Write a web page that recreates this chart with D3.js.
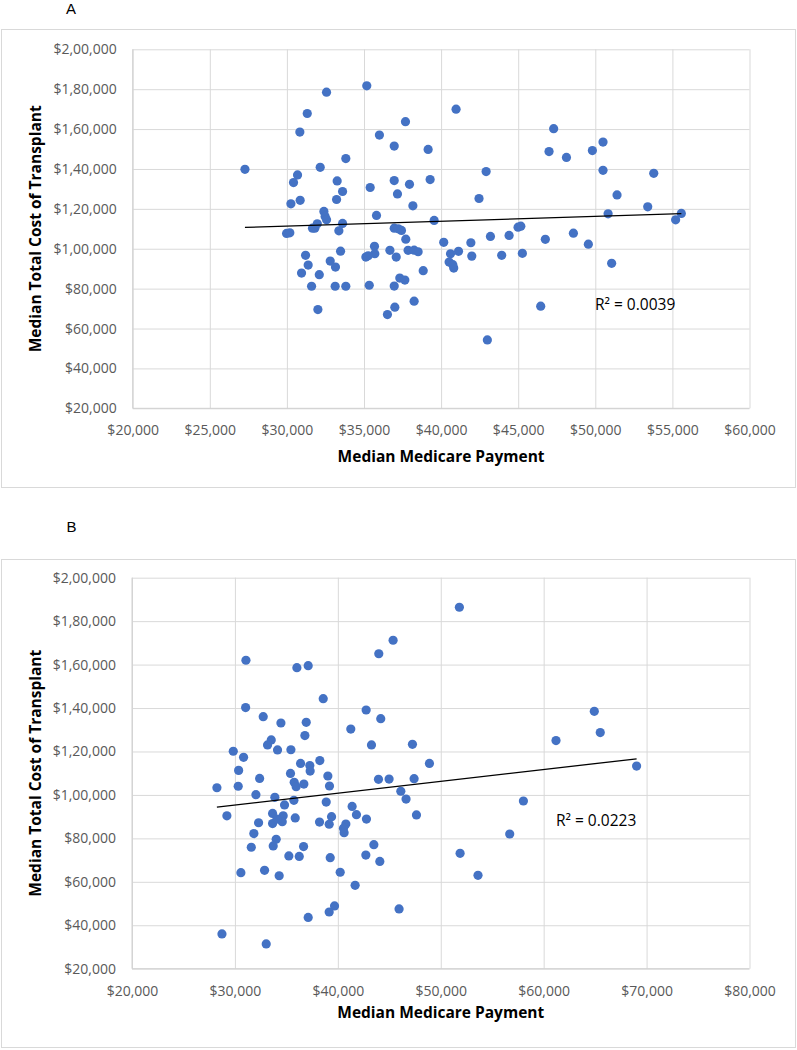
<!DOCTYPE html>
<html>
<head>
<meta charset="utf-8">
<script src="https://cdn.jsdelivr.net/npm/d3@7/dist/d3.min.js"></script>
<style>
  html, body { margin: 0; padding: 0; background: #fff; }
  svg { display: block; font-family: "Open Sans", "Noto Sans", sans-serif; }
</style>
</head>
<body>
<svg id="chart" width="797" height="1050"></svg>
<script>
// ---------------- DATA ----------------
const panelLabels = ["A", "B"];
const xAxisTitle = "Median Medicare Payment";
const yAxisTitle = "Median Total Cost of Transplant";
const r2Labels = ["R² = 0.0039", "R² = 0.0223"];

const xTicksA = [20000, 25000, 30000, 35000, 40000, 45000, 50000, 55000, 60000];
const xTicksB = [20000, 30000, 40000, 50000, 60000, 70000, 80000];
const yTicks = [20000, 40000, 60000, 80000, 100000, 120000, 140000, 160000, 180000, 200000];

const paymentA = [27280,32570,35180,31320,30840,40970,37690,36000,36960,39160,
  33820,32160,30690,30430,33260,33610,33220,35400,36960,37950,
  39290,37170,38170,30260,30860,42460,42920,32400,32480,32570,
  35810,39550,33610,31810,31970,31660,29980,30190,33370,36960,
  37220,37430,37710,40170,41930,43200,44410,44990,45170,35680,
  35700,35120,35270,33480,36680,37090,37860,38250,38510,40610,
  41130,40520,40820,40760,41990,43930,45270,31210,31380,30950,
  32100,32810,33150,38840,31600,33130,33820,35340,36960,37320,
  37650,32010,37000,36520,38250,43000,47300,47000,48130,49810,
  50500,50500,53790,51410,53400,50830,55580,55210,46760,48580,
  49550,51060,46460];
const costA = [139800,178500,181700,167800,158500,170000,163700,157000,151500,149800,
  145200,140800,137000,133200,134000,128700,124700,130700,134200,132300,
  134700,127500,121500,122500,124300,125200,138700,118700,116200,114500,
  116700,114200,112700,110300,112500,110300,107700,108000,109000,110300,
  110000,109200,104800,103200,103000,106200,106700,110800,111300,101200,
  97500,95800,96500,98800,99200,95800,99200,99300,98500,97500,
  98700,93300,90300,92000,96300,96700,97700,96700,91800,87800,
  87000,93800,90800,89000,81200,81200,81200,81700,81300,85300,
  84300,69500,70700,67000,73700,54300,160200,148700,145800,149200,
  153500,139300,137800,127000,121000,117500,117700,114500,104700,107800,
  102300,92700,71200];

const paymentB = [31070,36020,37120,38580,31040,32750,34470,36930,36800,41260,
  42750,33530,33170,34140,35440,29840,30840,30360,32400,35400,
  36380,37280,37310,38250,39030,43270,
  28250,30320,32040,33880,
  35760,35950,36700,39190,38870,34820,35730,29220,33660,34690,
  34600,33660,34080,35860,32300,38220,39160,39390,41390,41810,
  42780,40780,40550,40610,31840,34010,33720,31590,36670,35240,
  36250,39260,42720,30580,32880,34300,40230,41680,39680,39160,
  37120,28740,33040,
  51810,45370,43980,44170,47250,48900,43950,44980,47410,46120,46630,47640,
  43500,44080,45950,51880,53620,56700,58030,61200,64920,65500,69030];
const costB = [162000,158600,159500,144300,140200,136000,133100,133400,127300,130300,
  139100,125300,123000,120700,120800,120100,117300,111300,107600,109900,
  114500,113500,111000,115800,108700,123000,
  103300,104000,100100,98900,
  105800,103800,105000,104100,96700,95400,97500,90400,91500,90400,
  87700,86800,88900,89400,87200,87500,86500,90000,94700,90900,
  88900,86600,84600,82600,82200,79600,76500,75900,76200,71900,
  71700,71100,72300,64200,65300,62800,64400,58400,48900,46100,
  43600,36000,31400,
  186400,171200,165000,135100,123300,114500,107200,107300,107500,101700,98100,90800,
  77100,69400,47500,73100,63000,82000,97200,125000,138500,128700,113300];

// ---------------- LAYOUT / STYLE ----------------
const colors = { point: "#4472C4", grid: "#d9d9d9", axis: "#d0d0d0", tick: "#595959", border: "#d9d9d9", text: "#000" };

const panels = [
  { label: panelLabels[0], xs: paymentA, ys: costA, xTicks: xTicksA, r2: r2Labels[0],
    box: { x: 1, y: 29, w: 795, h: 459 }, labelPos: { x: 66, y: 13.5 },
    plot: { left: 132.7, right: 749.5, top: 49.3, bottom: 408.3 },
    r2Pos: { x: 595, y: 305 }, yTitleX: 36, xTitleY: 457 },
  { label: panelLabels[1], xs: paymentB, ys: costB, xTicks: xTicksB, r2: r2Labels[1],
    box: { x: 1, y: 559, w: 795, h: 489 }, labelPos: { x: 66.5, y: 531.5 },
    plot: { left: 132, right: 749.5, top: 577.7, bottom: 968.7 },
    r2Pos: { x: 556, y: 821 }, yTitleX: 36, xTitleY: 1013 }
];

const locale = d3.formatLocale({ decimal: ".", thousands: ",", grouping: [3, 2], currency: ["$", ""] });
const fmt = locale.format("$,.0f");

const svg = d3.select("#chart");

function linReg(xs, ys) {
  const mx = d3.mean(xs), my = d3.mean(ys);
  let sxy = 0, sxx = 0;
  for (let i = 0; i < xs.length; i++) { sxy += (xs[i] - mx) * (ys[i] - my); sxx += (xs[i] - mx) ** 2; }
  const b = sxy / sxx;
  return { a: my - b * mx, b };
}

panels.forEach(p => {
  const g = svg.append("g");
  // outer chart border
  g.append("rect").attr("x", p.box.x + 0.5).attr("y", p.box.y + 0.5)
    .attr("width", p.box.w - 1).attr("height", p.box.h - 1)
    .attr("fill", "#fff").attr("stroke", colors.border).attr("stroke-width", 1);

  // panel label
  svg.append("text").attr("x", p.labelPos.x).attr("y", p.labelPos.y)
    .attr("font-family", '"Liberation Sans", Arial, sans-serif')
    .attr("font-size", 15).attr("fill", colors.text).text(p.label);

  const x = d3.scaleLinear().domain(d3.extent(p.xTicks)).range([p.plot.left, p.plot.right]);
  const y = d3.scaleLinear().domain(d3.extent(yTicks)).range([p.plot.bottom, p.plot.top]);

  // gridlines
  const xGrid = d3.axisBottom(x).tickValues(p.xTicks).tickSize(-(p.plot.bottom - p.plot.top)).tickFormat("");
  const yGrid = d3.axisLeft(y).tickValues(yTicks).tickSize(-(p.plot.right - p.plot.left)).tickFormat("");
  g.append("g").attr("transform", `translate(0,${p.plot.bottom})`).call(xGrid)
    .call(s => s.select(".domain").remove())
    .call(s => s.selectAll("line").attr("stroke", colors.grid));
  g.append("g").attr("transform", `translate(${p.plot.left},0)`).call(yGrid)
    .call(s => s.select(".domain").remove())
    .call(s => s.selectAll("line").attr("stroke", colors.grid));

  // axis lines (bottom and left)
  g.append("line").attr("x1", p.plot.left).attr("x2", p.plot.right)
    .attr("y1", p.plot.bottom).attr("y2", p.plot.bottom).attr("stroke", colors.axis);
  g.append("line").attr("x1", p.plot.left).attr("x2", p.plot.left)
    .attr("y1", p.plot.top).attr("y2", p.plot.bottom).attr("stroke", colors.axis);

  // tick labels
  const xAxis = d3.axisBottom(x).tickValues(p.xTicks).tickSize(0).tickPadding(17).tickFormat(fmt);
  g.append("g").attr("transform", `translate(0,${p.plot.bottom})`).call(xAxis)
    .call(s => s.select(".domain").remove())
    .call(s => s.selectAll("text").attr("fill", colors.tick).attr("font-size", 14)
      .attr("font-family", '"Open Sans", sans-serif'));
  const yAxis = d3.axisLeft(y).tickValues(yTicks).tickSize(0).tickPadding(16).tickFormat(fmt);
  g.append("g").attr("transform", `translate(${p.plot.left},0)`).call(yAxis)
    .call(s => s.select(".domain").remove())
    .call(s => s.selectAll("text").attr("fill", colors.tick).attr("font-size", 14)
      .attr("font-family", '"Open Sans", sans-serif'));

  // axis titles
  g.append("text").attr("x", (p.plot.left + p.plot.right) / 2).attr("y", p.xTitleY).attr("dy", "0.35em")
    .attr("text-anchor", "middle").attr("font-size", 15.5).attr("font-weight", "bold")
    .attr("fill", colors.text).text(xAxisTitle);
  g.append("text").attr("transform", `translate(${p.yTitleX},${(p.plot.top + p.plot.bottom) / 2}) rotate(-90)`)
    .attr("dy", "0.35em").attr("text-anchor", "middle").attr("font-size", 15.5).attr("font-weight", "bold")
    .attr("fill", colors.text).text(yAxisTitle);

  // points
  const pts = p.xs.map((v, i) => ({ x: v, y: p.ys[i] }));
  g.append("g").selectAll("circle").data(pts).join("circle")
    .attr("cx", d => x(d.x)).attr("cy", d => y(d.y)).attr("r", 4.6)
    .attr("fill", colors.point);

  // linear trendline (least squares over data x-range)
  const reg = linReg(p.xs, p.ys);
  const ext = d3.extent(p.xs);
  const line = d3.line().x(d => x(d)).y(d => y(reg.a + reg.b * d));
  g.append("path").datum(ext).attr("d", line).attr("fill", "none")
    .attr("stroke", "#000").attr("stroke-width", 1.3);

  // R² label
  g.append("text").attr("x", p.r2Pos.x).attr("y", p.r2Pos.y).attr("dy", "0.35em")
    .attr("font-size", 15.5).attr("fill", colors.text).text(p.r2);
});
</script>
</body>
</html>
